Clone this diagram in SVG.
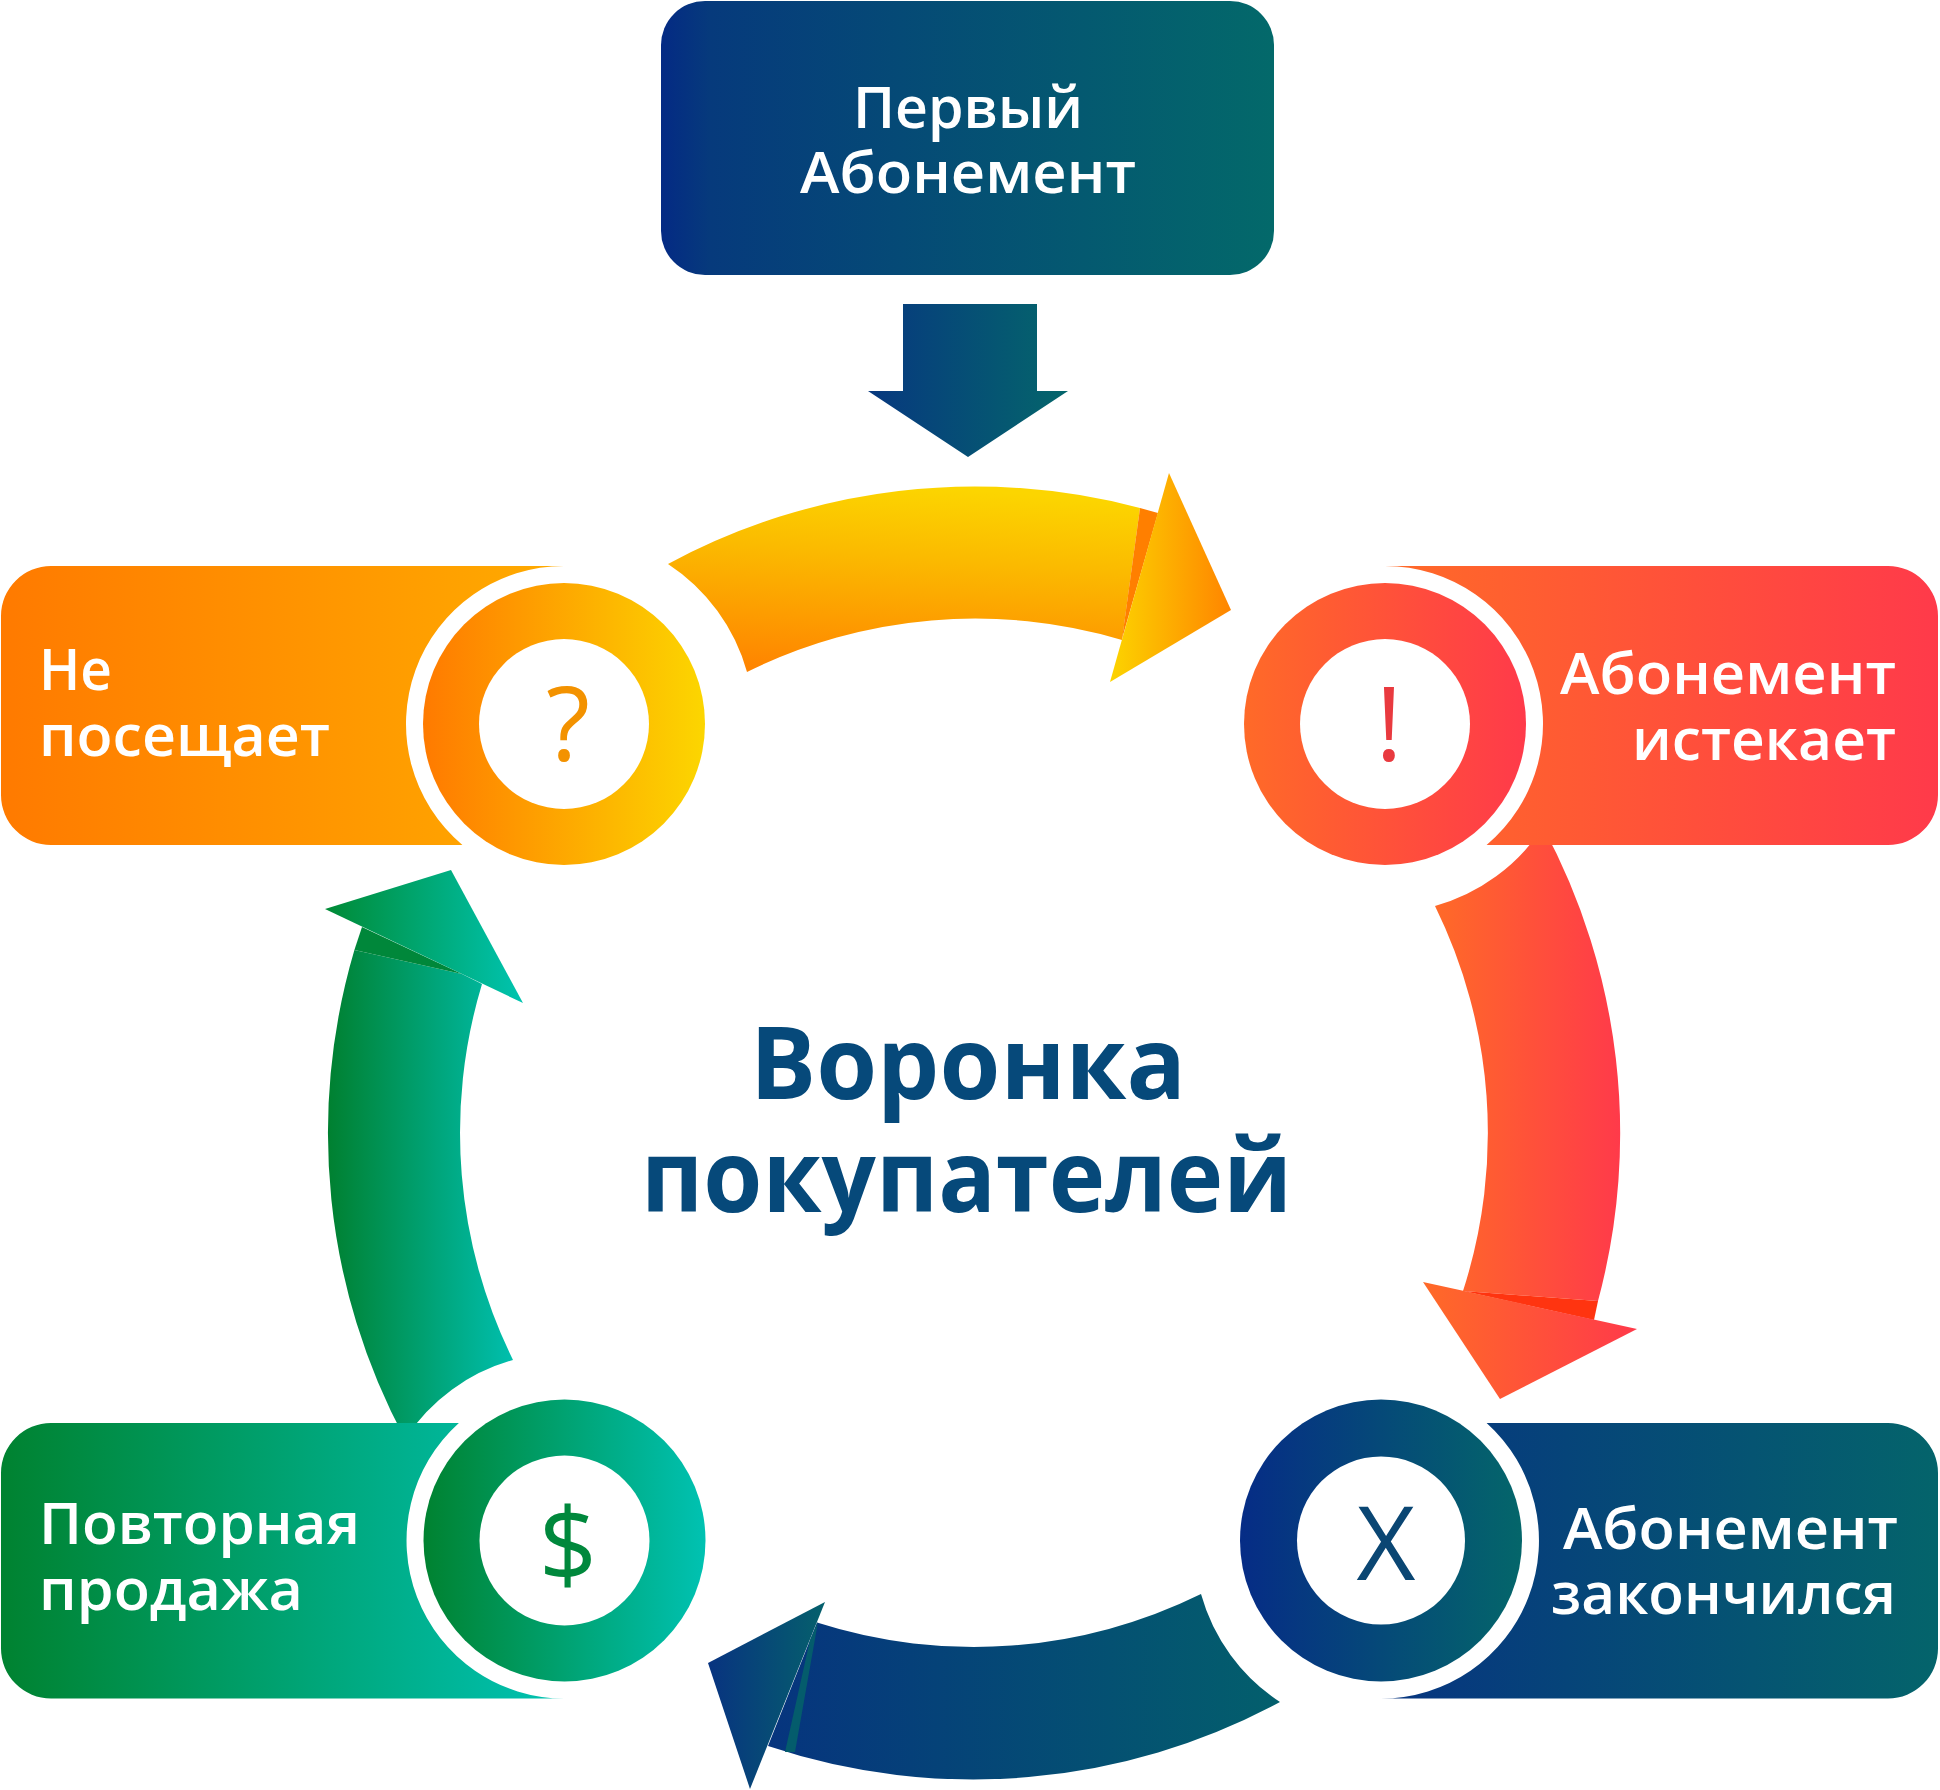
<svg xmlns="http://www.w3.org/2000/svg" width="1940" height="1790" viewBox="0 0 1940 1790">
<defs>
<linearGradient id="gTop" x1="0" y1="0" x2="1" y2="0"><stop offset="0" stop-color="#042a84"/><stop offset="0.08" stop-color="#063a7c"/><stop offset="1" stop-color="#03696a"/></linearGradient>
<linearGradient id="gDown" x1="0" y1="0" x2="1" y2="0"><stop offset="0" stop-color="#07387f"/><stop offset="1" stop-color="#04666b"/></linearGradient>
<linearGradient id="gTLbox" x1="0" y1="0" x2="1" y2="0"><stop offset="0" stop-color="#ff7a00"/><stop offset="1" stop-color="#ffab00"/></linearGradient>
<linearGradient id="gTLc" x1="0" y1="0" x2="1" y2="0"><stop offset="0" stop-color="#ff7a00"/><stop offset="1" stop-color="#fcd600"/></linearGradient>
<linearGradient id="gTR" x1="0" y1="0" x2="1" y2="0"><stop offset="0" stop-color="#ff6a28"/><stop offset="1" stop-color="#ff3a4a"/></linearGradient>
<linearGradient id="gBL" x1="0" y1="0" x2="1" y2="0"><stop offset="0" stop-color="#008230"/><stop offset="1" stop-color="#00c2b2"/></linearGradient>
<linearGradient id="gBRbox" x1="0" y1="0" x2="1" y2="0"><stop offset="0" stop-color="#073480"/><stop offset="1" stop-color="#04646b"/></linearGradient>
<linearGradient id="gBRc" x1="0" y1="0" x2="1" y2="0"><stop offset="0" stop-color="#062c86"/><stop offset="1" stop-color="#04666a"/></linearGradient>
<linearGradient id="gYbody" gradientUnits="userSpaceOnUse" x1="930" y1="487" x2="915" y2="690"><stop offset="0" stop-color="#fcd500"/><stop offset="0.35" stop-color="#fbba00"/><stop offset="1" stop-color="#ff8000"/></linearGradient>
<linearGradient id="gYhead" x1="0" y1="0" x2="1" y2="0"><stop offset="0" stop-color="#fcd400"/><stop offset="1" stop-color="#ff8500"/></linearGradient>
<linearGradient id="gBbody" x1="0" y1="0" x2="1" y2="0"><stop offset="0" stop-color="#06347e"/><stop offset="1" stop-color="#035f6c"/></linearGradient>
<linearGradient id="gBhead" x1="0" y1="0" x2="1" y2="0"><stop offset="0" stop-color="#083380"/><stop offset="1" stop-color="#05606c"/></linearGradient>
<linearGradient id="gGbody" x1="0" y1="0" x2="1" y2="0"><stop offset="0" stop-color="#008030"/><stop offset="1" stop-color="#00bfae"/></linearGradient>
<linearGradient id="gGhead" x1="0" y1="0" x2="1" y2="0"><stop offset="0" stop-color="#008a35"/><stop offset="1" stop-color="#00c4b0"/></linearGradient>
</defs>
<style>
.lbl{font-family:"Open Sans","Noto Sans","DejaVu Sans",sans-serif;font-size:57px;font-weight:600;fill:#ffffff}
.ttl{font-family:"Open Sans","Noto Sans","DejaVu Sans",sans-serif;font-size:100px;font-weight:700;fill:#06497a}
.sym{font-family:"Open Sans","Noto Sans","DejaVu Sans",sans-serif;font-size:102px;font-weight:400;text-anchor:middle}
.hole{fill:#ffffff}
</style>
<rect width="1940" height="1790" fill="#ffffff"/>

<g id="connectors">
  <polygon id="arrow-down" points="903,304 1037,304 1037,391 1068,391 968,457 868,391 903,391" fill="url(#gDown)"/>
  <g id="arrow-yellow">
    <path d="M 668,564 A 646 646 0 0 1 1140,508 L 1122,640 A 514 514 0 0 0 747,672 A 190 190 0 0 0 668,564 Z" fill="url(#gYbody)"/>
    <polygon points="1140,508 1158,513 1122,639" fill="#ff7f00"/>
    <polygon points="1169,473 1231,610 1110,682" fill="url(#gYhead)"/>
  </g>
  <g id="arrow-red">
    <path d="M 1543,827 A 646 646 0 0 1 1598,1301 L 1463,1291 A 514 514 0 0 0 1435,906 A 190 190 0 0 0 1543,827 Z" fill="url(#gTR)"/>
    <polygon points="1463,1291 1598,1301 1594,1320" fill="#ff3410"/>
    <polygon points="1423,1282 1637,1329 1500,1399" fill="url(#gTR)"/>
  </g>
  <g id="arrow-blue">
    <path d="M 1280,1702 A 646 646 0 0 1 768,1746 L 817,1622.5 A 514 514 0 0 0 1201,1594 A 190 190 0 0 0 1280,1702 Z" fill="url(#gBbody)"/>
    <polygon points="818,1622 810,1640 785,1752 795,1752" fill="#045c6c"/>
    <polygon points="708,1663 825,1602 750,1789" fill="url(#gBhead)"/>
  </g>
  <g id="arrow-green">
    <path d="M 405,1439 A 646 646 0 0 1 354.4,950 L 462,974 L 482,984 A 514 514 0 0 0 513,1360 A 190 190 0 0 0 405,1439 Z" fill="url(#gGbody)"/>
    <polygon points="362,927 354.4,950 462,974" fill="#00873a"/>
    <polygon points="325,909 451,870 523,1003" fill="url(#gGhead)"/>
  </g>
  <polygon points="590,1653 602,1648 596,1659" fill="#f04444"/>
</g>

<g id="node-top">
  <rect x="661" y="1" width="613" height="274" rx="44" ry="44" fill="url(#gTop)"/>
  <text class="lbl" x="853" y="128" textLength="230" lengthAdjust="spacingAndGlyphs">Первый</text>
  <text class="lbl" x="800" y="193" textLength="336" lengthAdjust="spacingAndGlyphs">Абонемент</text>
</g>

<g id="node-tl">
  <path d="M 51,566 H 564 A 158 158 0 0 0 462.4,845 H 51 A 50 50 0 0 1 1,795 V 616 A 50 50 0 0 1 51,566 Z" fill="url(#gTLbox)"/>
  <circle cx="564" cy="724" r="141" fill="url(#gTLc)"/>
  <circle class="hole" cx="564" cy="724" r="85"/>
  <text class="sym" x="568" y="761" fill="#f39200">?</text>
  <text class="lbl" x="39" y="690" textLength="73" lengthAdjust="spacingAndGlyphs">Не</text>
  <text class="lbl" x="39" y="756" textLength="291" lengthAdjust="spacingAndGlyphs">посещает</text>
</g>

<g id="node-tr">
  <path d="M 1888,566 H 1385 A 158 158 0 0 1 1486.6,845 H 1888 A 50 50 0 0 0 1938,795 V 616 A 50 50 0 0 0 1888,566 Z" fill="url(#gTR)"/>
  <circle cx="1385" cy="724" r="141" fill="url(#gTR)"/>
  <circle class="hole" cx="1385" cy="724" r="85"/>
  <text class="sym" x="1389" y="761" fill="#e93a3f">!</text>
  <text class="lbl" x="1560" y="694" textLength="336" lengthAdjust="spacingAndGlyphs">Абонемент</text>
  <text class="lbl" x="1632" y="760" textLength="264" lengthAdjust="spacingAndGlyphs">истекает</text>
</g>

<g id="node-bl">
  <path d="M 51,1423 H 458.9 A 158 158 0 0 0 564.5,1698.5 H 51 A 50 50 0 0 1 1,1648.5 V 1473 A 50 50 0 0 1 51,1423 Z" fill="url(#gBL)"/>
  <circle cx="564.5" cy="1540.5" r="141" fill="url(#gBL)"/>
  <circle class="hole" cx="564.5" cy="1540.5" r="85"/>
  <text class="sym" x="568" y="1582" fill="#00883c">$</text>
  <text class="lbl" x="39" y="1544" textLength="321" lengthAdjust="spacingAndGlyphs">Повторная</text>
  <text class="lbl" x="39" y="1610" textLength="264" lengthAdjust="spacingAndGlyphs">продажа</text>
</g>

<g id="node-br">
  <path d="M 1486.6,1423 H 1888 A 50 50 0 0 1 1938,1473 V 1648.5 A 50 50 0 0 1 1888,1698.5 H 1381 A 158 158 0 0 0 1486.6,1423 Z" fill="url(#gBRbox)"/>
  <circle cx="1381" cy="1540.5" r="141" fill="url(#gBRc)"/>
  <circle class="hole" cx="1381" cy="1540.5" r="84"/>
  <text class="sym" x="1386" y="1580" fill="#0a4673">X</text>
  <text class="lbl" x="1563" y="1549" textLength="335" lengthAdjust="spacingAndGlyphs">Абонемент</text>
  <text class="lbl" x="1551" y="1614" textLength="345" lengthAdjust="spacingAndGlyphs">закончился</text>
</g>

<g id="title">
  <text class="ttl" x="750" y="1099" textLength="436" lengthAdjust="spacingAndGlyphs">Воронка</text>
  <text class="ttl" x="641" y="1212" textLength="651" lengthAdjust="spacingAndGlyphs">покупателей</text>
</g>
</svg>
